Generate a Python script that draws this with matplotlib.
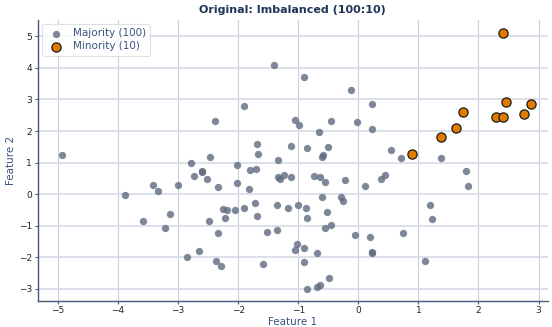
import numpy as np
import matplotlib
matplotlib.use("Agg")
import matplotlib.pyplot as plt

# ── Data ──
maj_x = [-4.93, -2.38, -1.91, -1.40, -1.69, -1.67, -2.47, -2.79, -2.02, -1.34,
         -1.12, -1.80, -1.71, -2.73, -2.61, -2.60, -2.52, -3.00, -3.41, -3.33,
         -2.33, -2.02, -1.82, -1.34, -1.30, -1.24, -1.12, -0.86, -0.50, -0.59,
         -0.61, 0.55, 0.71, -0.74, -0.63, -0.56, -0.22, 0.11, 0.37, 0.44,
         -0.61, -0.29, -0.26, 1.80, 1.83, 1.20, 1.22, 0.74, 1.11, 0.23,
         0.22, 0.19, -0.06, -0.52, -0.45, -0.56, -0.85, -0.87, -1.00, -1.17,
         -1.35, -1.36, -1.02, -1.05, -0.91, -0.68, -0.90, -0.49, -0.69, -0.64,
         -0.86, -3.88, -3.59, -3.13, -3.22, -2.86, -2.66, -2.37, -2.28, -2.49,
         -2.34, -2.22, -2.26, -2.18, -2.06, -1.91, -1.72, -1.69, -1.52, -1.59,
         -0.91, -0.12, 0.23, -1.06, -0.98, -0.46, -0.03, -0.66, 0.22, 1.37]
maj_y = [1.23, 2.33, 2.78, 4.08, 1.59, 1.28, 1.19, 1.00, 0.93, 1.08,
         1.52, 0.77, 0.81, 0.57, 0.72, 0.71, 0.48, 0.30, 0.29, 0.10,
         0.23, 0.35, 0.17, 0.55, 0.47, 0.62, 0.53, 1.46, 1.49, 1.25,
         1.17, 1.40, 1.13, 0.59, 0.54, 0.39, 0.44, 0.26, 0.49, 0.62,
         -0.10, -0.10, -0.21, 0.72, 0.26, -0.34, -0.78, -1.23, -2.11, -1.84,
         -1.85, -1.37, -1.29, -0.58, -0.97, -1.08, -0.76, -0.44, -0.35, -0.44,
         -0.35, -1.12, -1.59, -1.76, -1.72, -1.87, -2.14, -2.65, -2.94, -2.88,
         -3.00, -0.04, -0.85, -0.63, -1.08, -1.98, -1.80, -2.13, -2.28, -0.86,
         -1.23, -0.75, -0.46, -0.49, -0.49, -0.43, -0.28, -0.70, -1.20, -2.20,
         3.70, 3.30, 2.85, 2.36, 2.18, 2.31, 2.30, 1.96, 2.05, 1.16]

min_x = [0.90, 1.38, 1.62, 1.75, 2.41, 2.29, 2.41, 2.46, 2.76, 2.87]
min_y = [1.27, 1.82, 2.09, 2.61, 5.10, 2.46, 2.43, 2.92, 2.53, 2.85]

NAVY = "#1f3556"
SPINE = "#4a5a7c"
LABEL = "#3b5580"

fig = plt.figure(figsize=(5.52, 3.27), dpi=100)
ax = fig.add_axes([0.068, 0.080, 0.925, 0.859])

ax.scatter(maj_x, maj_y, s=28, color="#5f6b80", alpha=0.8, linewidths=0,
           label=f"Majority ({len(maj_x)})", zorder=3)
ax.scatter(min_x, min_y, s=44, color="#e07b00", edgecolors="#1a1a1a",
           linewidths=0.9, label=f"Minority ({len(min_x)})", zorder=4)

ax.set_xlim(-5.34, 3.16)
ax.set_ylim(-3.38, 5.52)
ax.set_xticks(np.arange(-5, 4))
ax.set_yticks(np.arange(-3, 6))

ax.grid(True, axis="x", color="#c9cfdc", linewidth=0.8)
ax.grid(True, axis="y", color="#d9dde6", linewidth=1.3)
ax.set_axisbelow(True)

for side in ("top", "right"):
    ax.spines[side].set_visible(False)
for side in ("left", "bottom"):
    ax.spines[side].set_color(SPINE)
    ax.spines[side].set_linewidth(1.0)
ax.tick_params(colors="#222222", labelsize=6.5, length=2.5, width=0.8, pad=1.5)
ax.tick_params(axis="both", color=SPINE)

ax.set_xlabel("Feature 1", fontsize=7.5, color=LABEL, labelpad=1)
ax.set_ylabel("Feature 2", fontsize=7.5, color=LABEL, labelpad=2)
ax.set_title("Original: Imbalanced (100:10)", fontsize=8, fontweight="bold",
             color=NAVY, pad=5)

leg = ax.legend(loc="upper left", fontsize=7.5, frameon=True, borderpad=0.4,
                handletextpad=0.6, labelspacing=0.3, borderaxespad=0.4)
leg.get_frame().set_edgecolor("#d5d9e2")
leg.get_frame().set_linewidth(0.8)
for t in leg.get_texts():
    t.set_color(LABEL)

plt.savefig("out.png", dpi=100)
